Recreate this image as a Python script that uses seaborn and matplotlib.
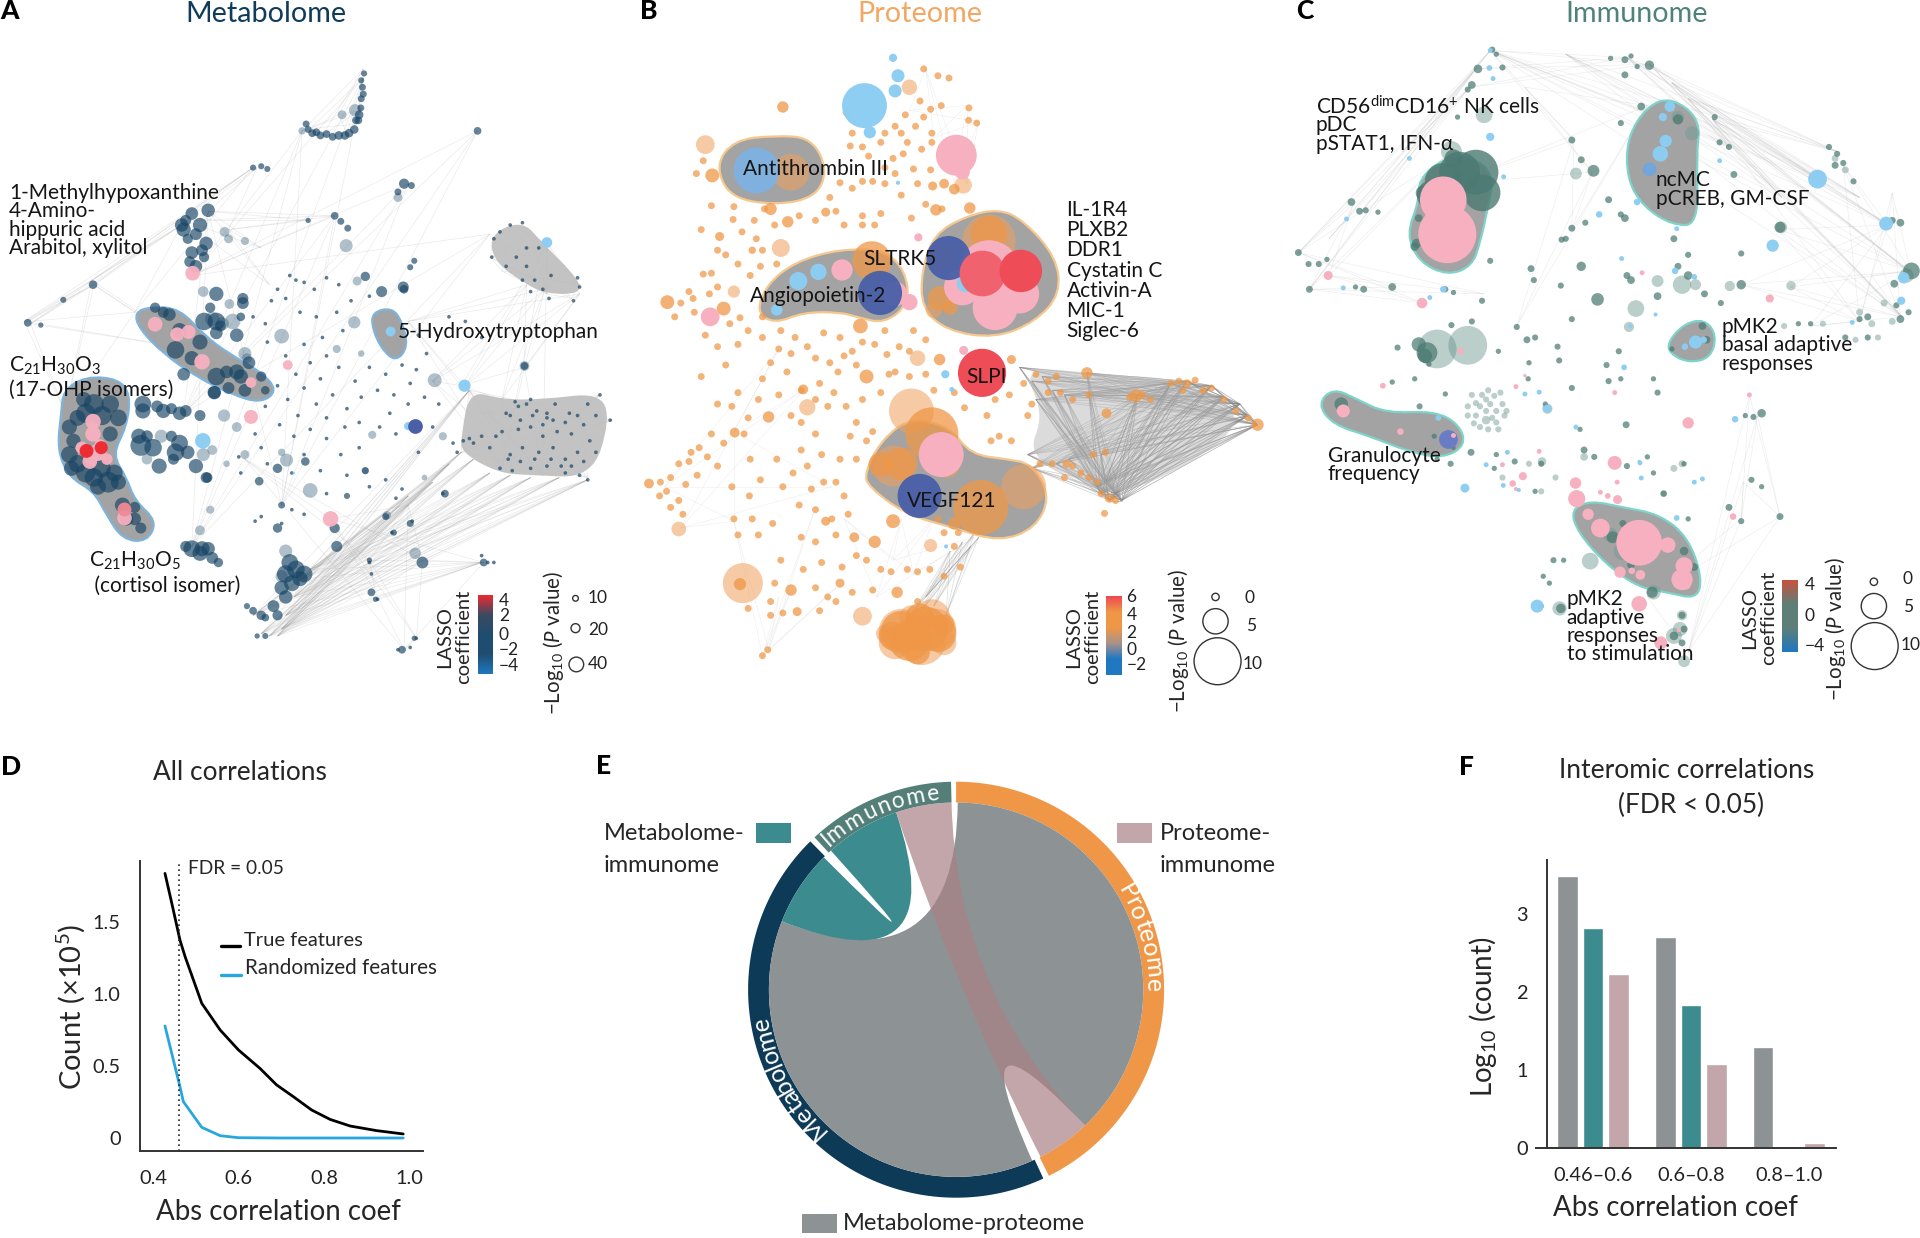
import itertools
import numpy as np
import pandas as pd
import matplotlib
matplotlib.use("Agg")
import matplotlib.pyplot as plt
import seaborn as sns
from matplotlib.collections import LineCollection
from matplotlib.colors import LinearSegmentedColormap
from matplotlib.font_manager import FontProperties
from matplotlib.patches import PathPatch, Rectangle
from matplotlib.path import Path
from matplotlib.textpath import TextPath

W, H = 1920, 1238
NAVY, ORANGE, GREEN = "#0c3a57", "#ef9747", "#537f78"
GREY, TEAL, MAUVE = "#8d9295", "#3c8b8e", "#c3a6aa"
PINK, SKY, INDIGO, RED = "#f7b0c0", "#8ccdf2", "#4a5fa8", "#ed2a30"
HULL = "#a3a3a3"

# ---- panel D data
true_x = [.428, .444, .463, .475, .514, .557, .6, .65, .689, .728, .771, .814, .861, .923, .985]
true_y = [1.835, 1.627, 1.373, 1.258, .934, .749, .61, .483, .368, .287, .194, .129, .083, .051, .028]
rand_x = [.428, .463, .471, .514, .557, .6, .7, .985]
rand_y = [.777, .356, .252, .074, .016, .002, 0, 0]

# ---- panel E data, degrees clockwise from 12 o'clock
proteome_arc = (0.0, 153.5)
metabolome_arc = (155.2, 315.5)
immunome_arc = (317.1, 358.6)
met_prot_prot = (0.5, 136.5)
met_prot_met = (156.0, 291.4)
met_imm_met = (291.4, 315.0)
met_imm_imm = (318.0, 341.3)
prot_imm_imm = (341.3, 358.6)
prot_imm_prot = (136.5, 153.2)

# ---- panel F data
f_ranges = ["0.46–0.6", "0.6–0.8", "0.8–1.0"]
f_met_prot = [3.5, 2.71, 1.30]
f_met_imm = [2.82, 1.84, 0]
f_prot_imm = [2.24, 1.08, .06]

# ---- panel A network (x, y, diameter)
A_hulls = [
    [(330, 680), (370, 668), (440, 672), (500, 730), (560, 770), (640, 810), (680, 850), (640, 878), (570, 860), (480, 820), (400, 770), (340, 715)],
    [(155, 850), (210, 820), (290, 825), (320, 860), (310, 930), (275, 990), (310, 1040), (330, 1090), (385, 1135), (360, 1180), (300, 1175), (260, 1120), (230, 1070), (170, 1040), (140, 980), (150, 900)],
    [(912, 680), (960, 670), (985, 700), (1000, 755), (970, 788), (935, 760), (912, 715)],
]
A_masses = [
    [(1130, 950), (1150, 850), (1230, 870), (1330, 870), (1470, 855), (1495, 915), (1450, 1040), (1300, 1035), (1220, 1030), (1130, 985)],
    [(1200, 510), (1280, 480), (1330, 530), (1420, 610), (1420, 640), (1340, 640), (1290, 620), (1210, 570)],
]
A_fans = [
    ([(640, 1380), (680, 1385), (700, 1340), (740, 1260), (620, 1340), (660, 1385), (690, 1370), (720, 1300), (760, 1240)],
     [(1130, 985), (1160, 1000), (1200, 1030), (1250, 1035), (1300, 1040), (1370, 1040), (1440, 1045), (1000, 1080), (1180, 1225), (1150, 850), (1100, 1010), (1060, 1050)]),
    ([(470, 600), (450, 900), (470, 1190), (690, 1100)], [(820, 470), (510, 460), (1170, 285), (890, 170), (1000, 400), (1200, 510), (740, 285)]),
    ([(60, 700), (230, 620), (330, 680), (75, 705), (225, 610)], [(160, 900), (445, 490), (470, 760), (620, 365), (230, 620), (68, 700)]),
    ([(1230, 1020), (1330, 1035), (1130, 840), (1290, 620), (1335, 630), (1420, 640)], [(1285, 800), (1140, 840), (1000, 700), (1340, 530), (1060, 830), (1230, 870)]),
    ([(990, 1415), (905, 1220), (1035, 1220), (810, 1130)], [(920, 1290), (1020, 1390), (1185, 1225), (1000, 1100), (600, 1000)]),
    ([(890, 150), (880, 240), (850, 290), (760, 280)], [(740, 285), (790, 295), (890, 170), (875, 270), (830, 250)]),
    ([(450, 480), (510, 460), (560, 500)], [(755, 480), (820, 470), (640, 540), (630, 365), (660, 620)]),
    ([(1200, 560), (1250, 490), (1420, 620), (1340, 640)], [(1210, 520), (1340, 530), (1400, 650), (1290, 600), (1300, 510), (1230, 590)]),
    ([(1500, 915), (1470, 860), (1440, 1040), (1150, 850)], [(1130, 985), (1180, 900), (1250, 1000), (1350, 950), (1420, 900)]),
]
A_lightnodes = [
    (498, 635, 24), (562, 662, 22), (570, 700, 36), (545, 705, 30), (520, 695, 34), (600, 770, 30), (690, 732, 34),
    (605, 780, 22), (549, 905, 28), (580, 930, 22), (702, 1002, 30), (760, 1068, 34), (1065, 828, 32), (1285, 797, 22),
    (875, 612, 20), (868, 702, 28), (848, 535, 30), (975, 430, 20), (1017, 1205, 26), (948, 1122, 18), (912, 947, 18),
    (1085, 950, 18), (490, 1155, 22), (515, 1110, 18), (498, 990, 30), (520, 980, 22), (700, 1200, 30), (690, 1255, 28),
    (1040, 1040, 12), (555, 1010, 14), (600, 990, 20), (690, 985, 16), (895, 1025, 16), (825, 760, 18), (885, 770, 14),
    (740, 285, 16), (838, 250, 20), (870, 240, 28), (560, 520, 20), (600, 525, 18), (550, 505, 22), (395, 950, 30), (360, 1000, 24),
]
A_darknodes = [
    (888, 190, 10), (892, 160, 8), (885, 215, 10), (880, 250, 14), (872, 262, 12), (855, 290, 14), (830, 295, 14), (800, 292, 12), (775, 288, 12), (755, 282, 10),
    (750, 270, 10), (765, 290, 12), (785, 295, 12), (815, 298, 12), (845, 295, 14), (868, 282, 14), (878, 262, 12), (884, 235, 10), (890, 205, 10), (885, 175, 8),
    (620, 365, 8), (640, 362, 8), (655, 368, 8), (990, 400, 18), (1008, 404, 10), (975, 418, 10), (1170, 285, 12), (820, 470, 12), (835, 482, 10), (852, 497, 10),
    (755, 480, 6), (1015, 568, 8), (1005, 582, 8), (988, 625, 20), (935, 635, 20), (895, 602, 16), (228, 620, 14), (155, 653, 8), (68, 703, 12), (100, 708, 6),
    (445, 490, 26), (510, 458, 26), (470, 465, 24), (455, 480, 20), (480, 510, 22), (460, 520, 18), (470, 550, 24), (495, 545, 22), (465, 570, 20), (500, 560, 18),
    (595, 660, 22), (530, 725, 24), (590, 690, 14), (515, 670, 18), (540, 710, 20),
    (380, 670, 18), (415, 685, 24), (400, 680, 20), (440, 720, 30), (490, 745, 30), (430, 762, 36), (470, 780, 28), (450, 815, 24), (530, 820, 36), (555, 810, 24),
    (580, 810, 30), (590, 820, 28), (610, 790, 24), (640, 820, 18), (650, 850, 14), (600, 850, 24), (560, 845, 22), (525, 855, 26),
    (230, 880, 42), (270, 880, 36), (190, 910, 32), (290, 910, 34), (180, 960, 28), (270, 945, 30), (190, 1010, 36), (230, 1040, 38), (265, 1050, 44), (290, 1050, 30),
    (240, 1060, 32), (205, 870, 30), (300, 1100, 30), (330, 1130, 24), (350, 880, 34), (385, 885, 22), (420, 890, 20), (455, 895, 22), (490, 905, 20), (345, 970, 44),
    (420, 950, 20), (440, 965, 34), (390, 1015, 30), (425, 1000, 20), (460, 985, 26), (480, 1015, 28), (505, 1040, 20), (360, 950, 22), (525, 855, 24),
    (470, 1195, 34), (495, 1195, 30), (455, 1190, 20), (520, 1215, 22), (535, 1225, 16), (690, 1100, 10), (680, 1150, 16), (710, 1225, 34), (725, 1240, 36), (715, 1270, 32),
    (735, 1260, 30), (700, 1300, 26), (680, 1340, 18), (650, 1345, 12), (620, 1330, 12), (605, 1320, 8), (650, 1385, 8), (630, 1385, 6), (825, 1190, 20), (820, 1150, 18),
    (1035, 1225, 22), (905, 1220, 6), (910, 1290, 12), (920, 1305, 6), (985, 1415, 12), (1015, 1390, 6), (1185, 1225, 12), (1285, 797, 12), (1090, 1075, 12), (850, 1080, 8),
    (635, 1048, 14), (680, 1020, 16), (748, 1005, 14), (895, 1025, 10), (508, 1040, 18), (595, 650, 20), (990, 630, 14), (945, 1125, 10), (1005, 1140, 10), (965, 1160, 8),
    (210, 900, 40), (250, 905, 40), (170, 930, 30), (210, 1030, 40), (250, 1020, 36), (280, 1030, 34), (170, 990, 34), (175, 1020, 30), (310, 1130, 26), (345, 1150, 20), (330, 1105, 20),
    (450, 500, 28), (490, 490, 28), (505, 530, 26), (480, 580, 24), (530, 640, 28), (500, 700, 36), (580, 730, 26), (530, 700, 36), (350, 895, 30), (400, 895, 28), (440, 900, 26),
    (340, 950, 30), (375, 975, 36), (430, 985, 36), (700, 1250, 36), (745, 1250, 34), (690, 1280, 28), (670, 1320, 22), (640, 1340, 16), (490, 1205, 30), (510, 1195, 26),
]
A_smallnodes = [
    (1240, 900), (1262, 875), (1290, 880), (1315, 895), (1340, 900), (1360, 880), (1395, 900), (1440, 880), (1470, 860), (1495, 915), (1230, 940), (1270, 935), (1300, 930),
    (1330, 950), (1365, 940), (1400, 945), (1430, 925), (1460, 905), (1135, 960), (1160, 965), (1200, 975), (1250, 990), (1280, 975), (1320, 985), (1355, 975), (1385, 1000),
    (1415, 985), (1445, 960), (1225, 1020), (1255, 1025), (1300, 1020), (1340, 1015), (1385, 1030), (1420, 1035), (1440, 1045), (1340, 910), (1305, 905), (1330, 925), (1375, 1015), (1120, 985),
    (1250, 905), (1275, 915), (1355, 915), (1385, 920), (1415, 905), (1245, 1000), (1275, 1005), (1310, 1000), (1350, 1000), (1400, 1015), (1430, 1005), (1460, 985), (1215, 950), (1180, 950), (1150, 955), (1110, 965), (1300, 870), (1270, 885),
    (1210, 520), (1225, 505), (1250, 490), (1280, 485), (1205, 560), (1240, 580), (1290, 580), (1310, 610), (1330, 630), (1350, 600), (1290, 540), (1320, 540), (1415, 605), (1420, 625), (1405, 655), (1345, 650), (1300, 635), (1280, 610), (1265, 560),
    (710, 600), (725, 610), (680, 630), (700, 650), (745, 615), (770, 630), (800, 605), (830, 620), (665, 655), (735, 680), (775, 690), (825, 680), (860, 655), (905, 645),
    (620, 690), (650, 705), (655, 745), (700, 775), (745, 750), (790, 735), (840, 720), (800, 775), (760, 790), (725, 815), (680, 840), (705, 870), (745, 845), (785, 825),
    (830, 800), (870, 830), (905, 800), (945, 815), (985, 795), (1020, 805), (1045, 770), (1100, 690), (1140, 700), (1180, 735), (1025, 730), (730, 905), (775, 880), (815, 860), (850, 890),
    (885, 865), (925, 850), (965, 860), (1005, 835), (1040, 865), (1075, 880), (1000, 880), (955, 900), (880, 920), (845, 930), (800, 910), (760, 935), (720, 950), (685, 925),
    (650, 885), (625, 945), (585, 995), (640, 975), (745, 990), (800, 955), (835, 990), (880, 975), (930, 930), (970, 945), (1025, 985), (1060, 930), (590, 1030), (655, 1010),
    (715, 1030), (785, 1025), (850, 1035), (905, 1060), (945, 1045), (985, 1065), (1010, 1135), (960, 1160), (970, 1085), (1085, 1075), (800, 1075), (745, 1120), (715, 1110), (690, 1140), (640, 1125), (625, 1135),
    (1180, 1210), (1195, 1225), (1210, 1225), (1005, 1410), (975, 1415), (910, 1250), (905, 1225), (925, 1305), (1020, 1390),
]
A_pink = [(472, 595, 36), (380, 706, 36), (434, 728, 34), (462, 723, 34), (495, 788, 38), (615, 833, 26), (705, 795, 24), (615, 908, 34), (810, 1130, 38),
          (228, 918, 38), (228, 945, 38), (200, 975, 30), (240, 985, 42), (220, 1005, 36), (262, 1000, 28), (245, 968, 26), (305, 1128, 36)]
A_rose = [(304, 1108, 34)]
A_red = [(212, 982, 34), (248, 975, 32)]
A_sky = [(1340, 528, 26), (957, 722, 24), (1138, 840, 30), (497, 960, 38), (1000, 928, 20), (720, 1030, 6)]
A_indigo = [(1017, 928, 36)]

# ---- panel B network
B_hulls = [
    [(185, 360), (230, 305), (330, 295), (420, 300), (460, 370), (430, 430), (330, 447), (220, 430)],
    [(285, 680), (310, 620), (380, 570), (490, 542), (600, 545), (650, 590), (660, 660), (600, 705), (530, 690), (490, 680), (400, 680), (330, 705)],
    [(690, 590), (720, 510), (800, 470), (880, 455), (940, 480), (1020, 560), (1030, 640), (970, 700), (870, 737), (750, 720), (690, 670)],
    [(550, 1030), (590, 960), (660, 910), (760, 930), (810, 990), (900, 1000), (960, 1010), (1005, 1080), (970, 1150), (880, 1180), (770, 1150), (650, 1120), (560, 1060)],
]
B_masses = [[(935, 800), (1100, 815), (1350, 825), (1510, 925), (1170, 1095), (1050, 1030), (950, 990), (990, 900)]]
B_mesh_left = [(930, 800), (960, 830), (970, 870), (950, 990), (960, 1020), (1010, 850), (1050, 1000), (1095, 812), (1130, 990), (1040, 860), (1020, 1010), (985, 820), (1100, 860)]
B_mesh_right = [(1513, 925), (1490, 905), (1470, 880), (1430, 865), (1400, 840), (1340, 830), (1300, 835), (1220, 860), (1150, 1090), (1165, 1075), (1140, 1050), (1180, 1090), (1130, 1075), (1120, 1060)]
B_fans = [
    ([(820, 1160), (790, 1180), (760, 1200), (830, 1170), (810, 1190)], [(690, 1330), (720, 1320), (750, 1340), (670, 1330), (700, 1300)]),
    ([(300, 1430), (315, 1415)], [(340, 1300), (370, 1285), (480, 1280), (230, 1135), (430, 1105)]),
    ([(800, 230), (830, 265), (700, 150)], [(800, 400), (660, 240), (720, 300), (770, 400)]),
    ([(60, 1060), (230, 940), (100, 1150)], [(340, 760), (230, 1135), (470, 1060), (400, 850)]),
    ([(580, 1300), (620, 1220), (670, 1250)], [(720, 1130), (640, 1130), (500, 1130), (820, 1170)]),
]
B_light = [
    (160, 315, 46), (855, 525, 130), (665, 895, 110), (370, 375, 90), (252, 1270, 98), (940, 1060, 110), (345, 540, 44), (410, 887, 40), (680, 780, 38),
    (545, 1342, 46), (95, 1152, 36), (660, 190, 38), (712, 1188, 32), (230, 635, 30), (792, 403, 42), (620, 1015, 100), (640, 1375, 110), (725, 1370, 100), (715, 1345, 90),
    (690, 1395, 120), (625, 1400, 80), (665, 1345, 60), (600, 1380, 44), (745, 1400, 60), (720, 675, 40), (750, 1010, 70),
]
B_medium = [
    (350, 233, 28), (177, 382, 34), (245, 1272, 30), (568, 568, 96), (855, 510, 90), (715, 945, 130), (835, 1105, 135), (640, 1010, 80), (590, 1012, 60),
    (700, 1370, 110), (660, 1395, 100), (685, 1345, 70), (640, 1375, 100), (730, 1380, 90), (620, 1385, 70), (680, 1420, 60), (745, 1360, 50),
    (205, 672, 34), (67, 658, 34), (22, 1053, 24), (725, 457, 28), (808, 453, 28), (770, 412, 26), (745, 400, 24), (717, 405, 22),
    (1095, 812, 28), (1513, 925, 30), (1143, 900, 24), (1215, 862, 32), (555, 820, 34), (315, 908, 28), (232, 942, 24), (540, 710, 36), (575, 1180, 30), (620, 1135, 34), (525, 1170, 24),
    (370, 1285, 28), (385, 1332, 22), (630, 1290, 28), (490, 1270, 22), (455, 1135, 22), (320, 455, 30), (362, 483, 28), (195, 515, 22), (275, 545, 18), (455, 462, 22), (770, 1140, 30), (734, 783, 28), (910, 783, 22), (400, 848, 24),
    (1045, 1010, 20), (1150, 1085, 22), (1340, 835, 20), (1380, 850, 18), (1230, 860, 20), (740, 560, 60), (735, 650, 60), (760, 670, 36), (850, 650, 40),
]
B_small = [
    (695, 150), (730, 165), (757, 170), (686, 220), (712, 238), (738, 230), (806, 235), (825, 268), (805, 262), (715, 290), (695, 255), (650, 250), (625, 275), (600, 290), (520, 290), (515, 318), (545, 320),
    (590, 310), (620, 345), (655, 310), (690, 325), (715, 310), (645, 335), (600, 365), (570, 395), (625, 378), (670, 368), (712, 370), (680, 400), (490, 398), (520, 410), (465, 430), (155, 350), (138, 378), (230, 450),
    (175, 448), (228, 478), (305, 455), (330, 490), (150, 500), (285, 520), (190, 545), (335, 575), (295, 580), (270, 600), (155, 597), (175, 595), (120, 635), (133, 680), (100, 660), (190, 625), (245, 692), (220, 705), (265, 720),
    (240, 750), (300, 690), (345, 720), (380, 735), (410, 755), (340, 760), (370, 770), (450, 725), (490, 735), (520, 765), (465, 790), (500, 775), (575, 750), (605, 772), (635, 755), (660, 765), (610, 815), (625, 810), (660, 820), (700, 815), (720, 850), (770, 855), (795, 888),
    (545, 470), (590, 465), (575, 490), (500, 490), (665, 475), (740, 455), (545, 490), (210, 795), (240, 855), (190, 880), (150, 820), (300, 825), (290, 870), (395, 850), (440, 835), (475, 855), (505, 885), (460, 885), (395, 920), (430, 945), (370, 905), (225, 885), (265, 910),
    (175, 945), (145, 975), (120, 1005), (95, 1010), (75, 1040), (65, 1070), (48, 1080), (95, 1090), (112, 1055), (75, 1105), (125, 985), (190, 1015), (225, 1060), (270, 1000), (268, 1080), (350, 1060), (375, 1030), (410, 1015), (450, 1050), (480, 1050), (500, 1080), (490, 1000),
    (515, 950), (530, 920), (570, 940), (430, 1110), (470, 1130), (430, 1180), (395, 1170), (345, 1220), (400, 1240), (290, 1165), (240, 1165), (230, 1130), (320, 1310), (320, 1340), (350, 1335), (265, 1325), (460, 1300), (480, 1310), (300, 1428), (313, 1415), (655, 1240), (680, 1245), (745, 1255), (785, 1235), (745, 1160), (780, 1160), (680, 1310),
    (880, 950), (860, 960), (910, 960), (850, 905), (905, 860), (940, 835), (970, 815), (1000, 855), (1030, 855), (1060, 870), (1100, 860), (960, 880), (950, 905), (1010, 1010), (1040, 1040), (1080, 1030), (1130, 1075), (1165, 1090), (1138, 1118), (1320, 830), (1360, 828), (1400, 845), (1430, 870), (1460, 895), (1490, 910), (1200, 865), (1140, 985), (1110, 990), (1020, 820),
    (505, 245), (560, 340), (640, 290), (675, 275), (750, 320), (740, 345), (600, 400), (545, 395), (640, 425), (700, 445), (480, 460), (430, 480), (390, 470), (280, 480), (250, 505), (210, 555), (240, 575), (300, 545), (170, 640), (130, 650), (85, 690), (160, 730),
    (190, 755), (300, 735), (320, 790), (360, 810), (430, 780), (485, 810), (530, 795), (545, 745), (600, 720), (670, 720), (700, 740), (590, 855), (545, 870), (430, 870), (340, 860), (255, 945), (205, 965), (165, 995), (140, 1035), (105, 1120), (50, 1050),
    (295, 1045), (335, 1000), (395, 980), (445, 990), (530, 1000), (555, 960), (420, 1065), (390, 1100), (325, 1140), (275, 1130), (510, 1120), (480, 1165), (530, 1210), (555, 1220), (445, 1225), (495, 1235), (330, 1270), (440, 1330), (430, 1280), (520, 1290), (570, 1285),
    (590, 1240), (615, 1245), (710, 1240), (770, 1190), (730, 1130), (800, 790), (870, 870), (1000, 830), (980, 1010), (1060, 1015), (1100, 1040), (1120, 1050), (1300, 835), (1330, 850), (1250, 870),
]
B_pink = [(775, 338, 100), (790, 375, 36), (682, 517, 20), (495, 588, 52), (172, 690, 46), (660, 658, 40), (793, 763, 22), (625, 640, 60),
          (855, 590, 150), (790, 625, 90), (870, 670, 110), (930, 640, 96), (738, 990, 110)]
B_sky = [(620, 126, 20), (632, 165, 32), (625, 198, 32), (550, 230, 110), (563, 288, 30), (632, 398, 10), (748, 815, 20), (764, 848, 12), (750, 1190, 10),
         (388, 612, 44), (437, 592, 40), (335, 675, 28), (798, 617, 44)]
B_steel = [(283, 370, 112)]
B_indigo = [(588, 638, 108), (756, 562, 108), (685, 1080, 108)]
B_coral = [(838, 595, 112)]
B_red = [(933, 590, 104), (838, 812, 118)]

# ---- panel C network
C_hulls = [
    [(340, 390), (400, 345), (470, 340), (525, 380), (510, 450), (490, 530), (470, 580), (410, 600), (340, 570), (310, 510), (340, 440)],
    [(850, 300), (900, 230), (960, 212), (1030, 260), (1020, 340), (1025, 490), (960, 490), (890, 450), (850, 390)],
    [(950, 745), (990, 705), (1040, 695), (1070, 730), (1055, 780), (1000, 790), (955, 770)],
    [(92, 880), (130, 845), (190, 870), (260, 900), (380, 895), (440, 925), (455, 970), (400, 998), (320, 985), (220, 950), (130, 925)],
    [(712, 1110), (760, 1090), (840, 1105), (930, 1120), (1000, 1170), (1035, 1260), (1020, 1305), (950, 1290), (880, 1280), (800, 1230), (730, 1160)],
]
C_fans = [
    ([(515, 110), (850, 125), (905, 140), (1000, 215), (1060, 260), (960, 180), (700, 118)], [(1320, 390), (1490, 490), (1540, 590), (1525, 690), (1365, 330), (1100, 320), (1230, 430), (1420, 430)]),
    ([(515, 110), (480, 150), (465, 190)], [(45, 550), (72, 630), (200, 460), (850, 125), (905, 140), (120, 520), (300, 330)]),
    ([(45, 550), (72, 630), (120, 600)], [(180, 445), (400, 345), (275, 625), (350, 660), (500, 640)]),
    ([(1225, 1125), (1130, 1130), (1000, 1420)], [(1150, 860), (1170, 905), (1135, 1050), (1000, 1420), (900, 1300)]),
    ([(1490, 490), (1545, 590), (1520, 690), (1420, 700)], [(1220, 500), (1380, 360), (1250, 625), (1130, 620), (1300, 710), (1060, 260), (1450, 600), (1500, 420)]),
    ([(720, 305), (765, 375), (900, 230)], [(515, 110), (420, 400), (600, 190), (715, 500), (580, 710)]),
]
C_light = [
    (500, 250, 36), (420, 330, 46), (725, 378, 24), (1010, 290, 30), (975, 255, 26), (1228, 495, 24), (925, 612, 24), (985, 620, 40), (1018, 620, 22), (1102, 623, 20), (1252, 622, 18),
    (872, 672, 36), (855, 712, 20), (1535, 600, 30), (460, 752, 90), (385, 760, 90), (760, 1222, 36), (685, 1325, 30), (990, 1440, 24), (985, 1340, 20), (655, 890, 20), (642, 1005, 16),
    (915, 1290, 30), (965, 1385, 34), (980, 1370, 30), (840, 1200, 40), (810, 1165, 30), (900, 1170, 30), (1000, 1230, 20), (505, 915, 16), (480, 878, 10), (510, 850, 10), (545, 880, 10), (530, 920, 10),
    (460, 905, 10), (490, 930, 10), (515, 880, 10), (550, 905, 10), (470, 860, 10), (525, 862, 10), (495, 860, 10), (460, 885, 10), (480, 905, 10), (505, 895, 10), (530, 895, 10), (490, 885, 10), (555, 895, 10),
    (510, 935, 10), (535, 935, 10), (475, 922, 10), (505, 870, 10), (540, 855, 10), (520, 910, 10), (745, 995, 14), (965, 1020, 12), (940, 1075, 12), (985, 1010, 12),
    (1360, 345, 12), (1385, 370, 12), (1420, 680, 12), (1450, 705, 12), (1480, 660, 12), (1500, 700, 12), (1235, 710, 10), (1330, 705, 10), (1410, 740, 10), (1465, 735, 10), (610, 1010, 10), (675, 1040, 10), (640, 1070, 10), (545, 1040, 10),
]
C_mass = [(480, 375, 110), (440, 375, 100), (400, 395, 90), (495, 420, 90), (370, 425, 70), (425, 345, 44)]
C_dark = [
    (520, 108, 10), (530, 118, 8), (485, 150, 16), (545, 147, 10), (470, 185, 14), (460, 195, 10), (435, 255, 8), (810, 127, 8), (845, 130, 12), (860, 122, 8), (875, 145, 8), (905, 142, 18), (845, 163, 12),
    (885, 232, 14), (835, 268, 10), (975, 260, 20), (715, 305, 12), (738, 348, 12), (768, 372, 24), (1065, 255, 10), (1077, 310, 10), (1100, 320, 10), (1112, 380, 12), (1225, 495, 22), (1345, 320, 10), (1365, 335, 10), (1380, 355, 10), (1360, 360, 12), (1405, 395, 10),
    (1500, 480, 12), (1520, 485, 14), (1547, 590, 36), (1505, 618, 14), (1510, 665, 10), (1520, 695, 14), (1540, 680, 10), (1440, 690, 12), (1420, 695, 10), (1440, 735, 10), (1385, 735, 10), (1270, 705, 8), (1300, 705, 8),
    (45, 550, 12), (72, 630, 12), (70, 575, 10), (95, 575, 10), (115, 565, 8), (175, 440, 14), (195, 460, 12), (210, 458, 10), (240, 462, 8), (185, 625, 8), (205, 630, 12), (275, 625, 14), (330, 537, 16),
    (515, 568, 10), (405, 630, 10), (425, 637, 8), (495, 655, 10), (615, 585, 12), (622, 610, 10), (738, 580, 18), (688, 622, 10), (778, 652, 26), (700, 520, 10), (715, 497, 12), (748, 485, 10), (690, 522, 10), (845, 475, 14), (805, 435, 12), (835, 467, 10),
    (850, 600, 12), (860, 610, 14), (925, 645, 14), (975, 580, 12), (1000, 600, 16), (965, 520, 12), (1000, 555, 10), (1130, 552, 10), (1130, 620, 18), (1080, 660, 10), (1040, 640, 12), (580, 712, 10), (605, 740, 12), (625, 735, 10), (288, 757, 10), (715, 695, 10),
    (680, 755, 10), (684, 785, 10), (830, 765, 10), (800, 795, 10), (805, 830, 10), (835, 825, 8), (915, 825, 8), (925, 855, 10), (715, 845, 10), (650, 880, 8), (608, 825, 8), (405, 858, 8), (342, 885, 10), (848, 925, 12), (735, 935, 8),
    (275, 832, 8), (330, 825, 8), (365, 793, 8), (360, 768, 46), (355, 775, 30), (340, 750, 30), (420, 708, 10), (470, 700, 10), (535, 765, 8), (610, 790, 8), (1180, 900, 16), (1160, 908, 10), (1140, 905, 8), (1100, 1105, 12), (1130, 1135, 10), (1225, 1125, 12), (1155, 1045, 10), (1180, 1060, 8),
    (940, 1075, 10), (990, 1010, 8), (900, 995, 8), (915, 1030, 8), (850, 1015, 10), (770, 995, 10), (745, 980, 12), (640, 1010, 10), (625, 1070, 8), (575, 1005, 10), (530, 990, 8), (468, 985, 12), (418, 1010, 10), (525, 1020, 8),
    (670, 1220, 10), (695, 1220, 8), (645, 1255, 8), (660, 1270, 8), (640, 1320, 8), (688, 1325, 18), (912, 1290, 22), (985, 1340, 12), (965, 1385, 16), (990, 1370, 12), (985, 1400, 12), (385, 1000, 8),
    (815, 1170, 24), (840, 1140, 12), (860, 1230, 14), (990, 1200, 16), (1015, 1235, 14), (1000, 1130, 8), (960, 760, 8), (1035, 710, 14), (1045, 740, 14), (150, 880, 28), (378, 950, 8), (425, 975, 6),
    (335, 530, 18), (350, 420, 30), (340, 475, 14),
]
C_pink = [
    (400, 435, 112), (410, 510, 140), (118, 600, 20), (348, 660, 24), (442, 765, 14), (155, 895, 30), (295, 940, 14), (422, 948, 12), (252, 840, 12), (578, 842, 10), (600, 818, 6), (635, 983, 10),
    (545, 1012, 10), (595, 1037, 18), (570, 1053, 14), (578, 1065, 8), (887, 594, 10), (1200, 650, 18), (1150, 860, 10), (820, 855, 10), (1000, 921, 26), (820, 1008, 32), (724, 1052, 26), (727, 1086, 40), (785, 1072, 10), (827, 1088, 20), (803, 1080, 12), (826, 1050, 10), (1110, 1125, 14),
    (755, 1120, 26), (785, 1150, 44), (880, 1182, 110), (950, 1187, 36), (990, 1232, 40), (985, 1262, 50), (993, 1272, 26), (833, 1246, 26), (862, 1243, 14), (883, 1252, 22), (880, 1315, 36), (933, 1400, 30), (977, 1372, 8),
]
C_sky = [
    (515, 110, 10), (513, 148, 12), (522, 171, 10), (515, 298, 18), (317, 345, 10), (548, 385, 10), (163, 477, 10), (155, 627, 10), (400, 630, 14), (367, 648, 10), (955, 232, 24), (938, 255, 18), (945, 307, 28), (932, 335, 36), (905, 365, 14), (875, 440, 14), (972, 498, 10),
    (782, 467, 14), (1077, 350, 10), (1317, 390, 44), (1485, 487, 32), (1207, 535, 28), (1528, 605, 26), (1522, 655, 18), (1402, 702, 10), (837, 563, 10), (968, 590, 14), (1015, 603, 12), (920, 685, 8), (858, 710, 8),
    (843, 800, 12), (600, 858, 10), (635, 854, 10), (655, 890, 18), (725, 930, 10), (388, 910, 12), (1115, 913, 14), (1015, 1050, 10), (1035, 1043, 10), (885, 1041, 10), (882, 1008, 10), (972, 1128, 12), (453, 1063, 20), (557, 985, 10), (505, 1012, 10), (547, 1057, 10), (585, 1067, 8),
    (630, 1320, 30), (992, 755, 14), (1018, 745, 30), (1038, 740, 14), (880, 1005, 6),
]
C_steel = [(903, 368, 34)]
C_indigo = [(412, 955, 46)]

# ---- text annotations in panels A-C
A_labels = [("1-Methylhypoxanthine", 22, 420), ("4-Amino-", 22, 460), ("hippuric acid", 22, 500), ("Arabitol, xylitol", 22, 540),
            ("C$_{21}$H$_{30}$O$_3$", 22, 797), ("(17-OHP isomers)", 22, 850), ("C$_{21}$H$_{30}$O$_5$", 218, 1222), (" (cortisol isomer)", 218, 1275),
            ("5-Hydroxytryptophan", 975, 722)]
B_labels = [("Antithrombin III", 252, 368), ("SLTRK5", 548, 563), ("Angiopoietin-2", 270, 645), ("IL-1R4", 1045, 457), ("PLXB2", 1045, 500), ("DDR1", 1045, 545),
            ("Cystatin C", 1045, 590), ("Activin-A", 1045, 633), ("MIC-1", 1045, 677), ("Siglec-6", 1045, 720), ("SLPI", 800, 820), ("VEGF121", 655, 1090)]
C_labels = [("CD56$^{dim}$CD16$^{+}$ NK cells", 88, 232), ("pDC", 88, 272), ("pSTAT1, IFN-α", 88, 313), ("ncMC", 920, 393), ("pCREB, GM-CSF", 920, 433),
            ("pMK2", 1082, 712), ("basal adaptive", 1082, 752), ("responses", 1082, 793), ("Granulocyte", 117, 993), ("frequency", 117, 1033),
            ("pMK2", 702, 1305), ("adaptive", 702, 1345), ("responses", 702, 1385), ("to stimulation", 702, 1425)]


def px_axes(fig, x0, y0, x1, y1):
    # axes placed by pixel box of the 1920x1238 canvas, y from the top
    return fig.add_axes([x0 / W, 1 - y1 / H, (x1 - x0) / W, (y1 - y0) / H])


def draw_nodes(ax, points, color, alpha=1.0, default_d=9, grow=0):
    rows = [p if len(p) == 3 else (p[0], p[1], default_d) for p in points]
    df = pd.DataFrame(rows, columns=["x", "y", "d"])
    # d is in crop units (2.45 per pixel); scatter wants points squared
    area = ((df["d"].to_numpy() + grow) * 0.294) ** 2
    sns.scatterplot(data=df, x="x", y="y", s=area, color=color, alpha=alpha,
                    linewidth=0, legend=False, ax=ax, clip_on=False)


def blob(ax, pts, face, edge, alpha=1.0, lw=1.6):
    # closed quadratic b-spline through the midpoints of the hull vertices
    pts = np.array(pts, dtype=float)
    mids = (pts + np.roll(pts, -1, axis=0)) / 2
    verts = [mids[-1]]
    codes = [Path.MOVETO]
    for i in range(len(pts)):
        verts += [pts[i], mids[i]]
        codes += [Path.CURVE3, Path.CURVE3]
    ax.add_patch(PathPatch(Path(verts, codes), fc=face, ec=edge, lw=lw, alpha=alpha, zorder=.6))


def fans(ax, pairs, color="#9b9b9b", alpha=.22, lw=.5):
    segs = []
    for left, right in pairs:
        segs += list(itertools.product(left, right))
    ax.add_collection(LineCollection(segs, colors=color, alpha=alpha, linewidths=lw, zorder=.5))


def colorbar(ax, x0, x1, y0, y1, stops):
    cmap = LinearSegmentedColormap.from_list("bar", stops)
    ax.imshow(np.linspace(1, 0, 128)[:, None], extent=(x0, x1, y1, y0), aspect="auto", cmap=cmap, zorder=3)


def size_legend(ax, points):
    df = pd.DataFrame(points, columns=["x", "y", "d"])
    sns.scatterplot(data=df, x="x", y="y", s=(df["d"].to_numpy() * 0.294) ** 2, facecolor="none",
                    edgecolor="#333333", linewidth=1.0, legend=False, ax=ax, clip_on=False)


def panel_text(ax, labels, size=15):
    for text, x, y in labels:
        ax.text(x, y, text, fontsize=size, va="center", ha="left", color="#151515", zorder=6)


def finish_panel(ax):
    ax.set_xlim(0, 1568)
    ax.set_ylim(1568, 0)
    ax.set_xlabel("")
    ax.set_ylabel("")
    ax.axis("off")


def side_legend(ax, lasso_x, lasso_y, logp_x, logp_y, ticks):
    ax.text(lasso_x[0], lasso_y, "LASSO", rotation=90, fontsize=14.5, ha="center", va="center")
    ax.text(lasso_x[1], lasso_y, "coefficient", rotation=90, fontsize=14.5, ha="center", va="center")
    ax.text(logp_x, logp_y, r"−Log$_{10}$ ($\mathit{P}$ value)", rotation=90, fontsize=14.8, ha="center", va="center")
    for text, x, y in ticks:
        ax.text(x, y, text, fontsize=12.5, ha="left", va="center", color="#222222")


def draw_network_a(ax):
    fans(ax, A_fans, alpha=.2)
    for m in A_masses:
        blob(ax, m, "#bdbdbd", "none", alpha=.9, lw=0)
    for h in A_hulls:
        blob(ax, h, HULL, "#7eb4dc")
    draw_nodes(ax, A_lightnodes, "#2f5a76", .38, grow=2)
    draw_nodes(ax, A_darknodes, "#174464", .66, grow=7)
    draw_nodes(ax, A_smallnodes, "#1c4868", .72, default_d=9)
    draw_nodes(ax, A_pink, PINK, .95)
    draw_nodes(ax, A_rose, "#f08a95", .95)
    draw_nodes(ax, A_red, RED, .98)
    draw_nodes(ax, A_sky, SKY, .98)
    draw_nodes(ax, A_indigo, INDIGO, 1)
    panel_text(ax, A_labels)
    colorbar(ax, 1170, 1206, 1298, 1468, ["#1f78c1", "#1f4d70", "#1f4d70", "#3a4a62", "#ed2a30"])
    side_legend(ax, (1090, 1137), 1387, 1355, 1400,
                [("4", 1222, 1308), ("2", 1222, 1342), ("0", 1222, 1382), ("−2", 1222, 1415), ("−4", 1222, 1450)])
    size_legend(ax, [(1410, 1303, 14), (1410, 1368, 22), (1412, 1447, 36)])
    for text, y in [("10", 1303), ("20", 1372), ("40", 1447)]:
        ax.text(1440, y, text, fontsize=12.5, va="center", color="#222222")
    finish_panel(ax)


def draw_network_b(ax):
    fans(ax, [(B_mesh_left, B_mesh_right), (B_mesh_right, B_mesh_right)], color="#8d8d8d", alpha=.42, lw=.5)
    fans(ax, B_fans[:1], color="#8d8d8d", alpha=.3, lw=.5)
    fans(ax, B_fans[1:], color="#c4c4c4", alpha=.28, lw=.4)
    for m in B_masses:
        blob(ax, m, "#b0b0b0", "none", alpha=.45, lw=0)
    for h in B_hulls:
        blob(ax, h, HULL, "#f5c890")
    draw_nodes(ax, B_light, "#f0a05a", .55)
    draw_nodes(ax, B_medium, ORANGE, .75)
    draw_nodes(ax, B_small, ORANGE, .72, default_d=17)
    draw_nodes(ax, B_pink, PINK, 1)
    draw_nodes(ax, B_sky, SKY, .98)
    draw_nodes(ax, B_steel, "#7fb2e2", .95)
    draw_nodes(ax, B_indigo, INDIGO, .95)
    draw_nodes(ax, B_coral, "#f0626e", 1)
    draw_nodes(ax, B_red, "#ee4c57", 1)
    panel_text(ax, B_labels)
    colorbar(ax, 1142, 1180, 1298, 1470, ["#1f78c1", "#1f78c1", "#a9928a", ORANGE, ORANGE, "#ee4850"])
    side_legend(ax, (1063, 1110), 1387, 1320, 1395,
                [("6", 1192, 1300), ("4", 1192, 1340), ("2", 1192, 1378), ("0", 1192, 1415), ("−2", 1192, 1448)])
    size_legend(ax, [(1410, 1300, 18), (1410, 1353, 62), (1415, 1440, 115)])
    for text, x, y in [("0", 1482, 1302), ("5", 1484, 1364), ("10", 1477, 1445)]:
        ax.text(x, y, text, fontsize=12.5, va="center", color="#222222")
    finish_panel(ax)


def draw_network_c(ax):
    fans(ax, C_fans, color="#b5b5b5", alpha=.22, lw=.5)
    for h in C_hulls:
        blob(ax, h, HULL, "#7ed3cb")
    draw_nodes(ax, C_light, "#6f9992", .48, grow=5)
    draw_nodes(ax, C_mass, "#4b7a72", .8)
    draw_nodes(ax, C_dark, "#4b7a72", .72, grow=5)
    draw_nodes(ax, C_pink, PINK, 1, grow=2)
    draw_nodes(ax, C_sky, SKY, .98, grow=2)
    draw_nodes(ax, C_steel, "#6ea6dc", .9)
    draw_nodes(ax, C_indigo, "#6a7cc4", 1)
    draw_nodes(ax, [(425, 948, 12)], PINK, 1)
    panel_text(ax, C_labels)
    colorbar(ax, 1230, 1268, 1265, 1420, ["#1f78c1", "#5d7f78", "#5d7f78", "#c9523f"])
    side_legend(ax, (1150, 1198), 1345, 1362, 1370,
                [("4", 1285, 1275), ("0", 1285, 1342), ("−4", 1285, 1407)])
    size_legend(ax, [(1455, 1267, 18), (1455, 1320, 62), (1457, 1407, 115)])
    for text, x, y in [("0", 1525, 1262), ("5", 1527, 1323), ("10", 1520, 1405)]:
        ax.text(x, y, text, fontsize=12.5, va="center", color="#222222")
    finish_panel(ax)


def draw_lines(ax):
    sns.lineplot(x=true_x, y=true_y, color="black", lw=2.0, ax=ax, legend=False, estimator=None)
    sns.lineplot(x=rand_x, y=rand_y, color="#28a6de", lw=2.0, ax=ax, legend=False, estimator=None)
    ax.axvline(.461, color="#222222", lw=1.2, ls=(0, (1, 2)))
    ax.set_xlim(.3696, 1.0306)
    ax.set_ylim(-.0902, 1.923)
    ax.set_xticks([.4, .6, .8, 1.0], ["0.4", "0.6", "0.8", "1.0"])
    ax.set_yticks([0, .5, 1, 1.5], ["0", "0.5", "1.0", "1.5"])
    sns.despine(ax=ax)
    style_axis(ax)
    ax.set_xlabel("")
    ax.set_ylabel("")
    ax.patch.set_alpha(0)


def draw_bars(ax):
    df = pd.DataFrame({
        "range": f_ranges * 3,
        "log_count": f_met_prot + f_met_imm + f_prot_imm,
        "pair": ["mp"] * 3 + ["mi"] * 3 + ["pi"] * 3,
    })
    sns.barplot(data=df, x="range", y="log_count", hue="pair", palette={"mp": GREY, "mi": TEAL, "pi": MAUVE},
                width=.787, gap=.195, saturation=1, legend=False, ax=ax)
    ax.set_xlim(-.5826, 2.48)
    ax.set_ylim(0, 3.7)
    ax.set_yticks([0, 1, 2, 3])
    sns.despine(ax=ax)
    ax.spines["left"].set_position(("data", -.4668))
    style_axis(ax)
    ax.set_xlabel("")
    ax.set_ylabel("")
    ax.patch.set_alpha(0)


def style_axis(ax):
    for s in ["left", "bottom"]:
        ax.spines[s].set_linewidth(1.4)
        ax.spines[s].set_color("#333333")
    ax.tick_params(axis="both", length=9, width=1.2, color="#333333", labelsize=14.4, labelcolor="#222222", pad=5)


def polar(angle, r):
    t = np.deg2rad(angle)
    return r * np.sin(t), r * np.cos(t)


def ring(ax, arc, color):
    a = np.linspace(arc[0], arc[1], 120)
    outer = np.column_stack(polar(a, 1.0))
    inner = np.column_stack(polar(a[::-1], .9))
    ax.fill(*np.vstack([outer, inner]).T, color=color, lw=0)


def chord(ax, first, second, color, alpha=1.0):
    # ribbon: arc along first, curve via the centre, arc along second, curve back
    r = .9
    a1 = np.column_stack(polar(np.linspace(first[0], first[1], 100), r))
    a2 = np.column_stack(polar(np.linspace(second[0], second[1], 100), r))
    verts = list(a1)
    codes = [Path.MOVETO] + [Path.LINETO] * (len(a1) - 1)
    verts += [(0, 0), a2[0]]
    codes += [Path.CURVE3, Path.CURVE3]
    verts += list(a2[1:])
    codes += [Path.LINETO] * (len(a2) - 1)
    verts += [(0, 0), a1[0]]
    codes += [Path.CURVE3, Path.CURVE3]
    ax.add_patch(PathPatch(Path(verts, codes), fc=color, ec="none", alpha=alpha))


def ring_text(ax, word, start, end, size=18):
    fp = FontProperties(family="Lato", size=size)
    widths = [TextPath((0, 0), word[:i], prop=fp).get_extents().width if i else 0 for i in range(len(word) + 1)]
    for i, ch in enumerate(word):
        mid = (widths[i] + widths[i + 1]) / 2 / widths[-1]
        ang = start + (end - start) * mid
        x, y = polar(ang, .95)
        ax.text(x, y, ch, rotation=-ang, rotation_mode="anchor", ha="center", va="center",
                color="white", fontsize=size, zorder=5)


def draw_chord(ax):
    ring(ax, proteome_arc, ORANGE)
    ring(ax, metabolome_arc, NAVY)
    ring(ax, immunome_arc, GREEN)
    # gray ribbon twists: proteome start joins metabolome end
    chord(ax, met_prot_prot, met_prot_met, GREY)
    chord(ax, met_imm_met, met_imm_imm, TEAL)
    chord(ax, prot_imm_imm, prot_imm_prot, "#a98085", .7)
    ring_text(ax, "Proteome", 58.3, 91)
    ring_text(ax, "Metabolome", 223.5, 261.9)
    ring_text(ax, "Immunome", 318.7, 355.5, size=16.5)
    ax.set_xlim(-1.1, 1.1)
    ax.set_ylim(-1.1, 1.1)
    ax.axis("off")


def main():
    sns.set_style("white")
    plt.rcParams["font.family"] = ["Lato", "DejaVu Sans"]
    plt.rcParams["mathtext.fontset"] = "custom"
    plt.rcParams["mathtext.rm"] = "Lato"
    plt.rcParams["mathtext.it"] = "Lato:italic"
    plt.rcParams["mathtext.default"] = "regular"

    fig = plt.figure(figsize=(W / 100, H / 100), dpi=100)

    draw_network_a(px_axes(fig, 0, 0, 640, 720))
    draw_network_b(px_axes(fig, 640, 0, 1280, 720))
    draw_network_c(px_axes(fig, 1280, 0, 1920, 720))
    draw_lines(px_axes(fig, 140, 860.7, 422.7, 1151))
    draw_chord(px_axes(fig, 956.1 - 228.8, 989.7 - 228.8, 956.1 + 228.8, 989.7 + 228.8))
    draw_bars(px_axes(fig, 1536, 860, 1835.7, 1147.7))

    # full canvas layer for titles and legends, in pixels
    top = px_axes(fig, 0, 0, W, H)
    top.set_xlim(0, W)
    top.set_ylim(H, 0)
    top.axis("off")
    top.patch.set_alpha(0)

    for text, x, y, color in [("Metabolome", 266, 14, "#0f3c5a"), ("Proteome", 920, 14, "#f2a763"), ("Immunome", 1637, 14, "#4f8379")]:
        top.text(x, y, text, fontsize=20.7, ha="center", va="center", color=color)
    for text, x, y in [("A", 0, 11), ("B", 640, 11), ("C", 1296, 11), ("D", 1, 767), ("E", 596, 766), ("F", 1459, 767)]:
        top.text(x, y, text, fontsize=19, fontweight="black", ha="left", va="center", color="black")

    top.text(240, 773, "All correlations", fontsize=18.9, ha="center", va="center")
    top.text(71, 1007, "Count (×10$^5$)", fontsize=21, rotation=90, ha="center", va="center")
    top.text(278, 1212, "Abs correlation coef", fontsize=19.9, ha="center", va="center")
    top.text(188, 868, "FDR = 0.05", fontsize=13.8, ha="left", va="center")
    top.text(244, 940, "True features", fontsize=14.5, ha="left", va="center")
    top.text(245, 968, "Randomized features", fontsize=14.9, ha="left", va="center")
    sns.lineplot(x=[221, 240], y=[946, 946], color="black", lw=2.4, ax=top, legend=False)
    sns.lineplot(x=[221, 241], y=[975, 975], color="#28a6de", lw=2.4, ax=top, legend=False)

    top.text(604, 834, "Metabolome-", fontsize=17, ha="left", va="center")
    top.text(604, 865, "immunome", fontsize=17, ha="left", va="center")
    top.text(1159.5, 834, "Proteome-", fontsize=17, ha="left", va="center")
    top.text(1159.5, 865, "immunome", fontsize=17, ha="left", va="center")
    top.text(843, 1224, "Metabolome-proteome", fontsize=17, ha="left", va="center")
    top.add_patch(Rectangle((756, 823), 35, 20, fc=TEAL, ec="none"))
    top.add_patch(Rectangle((1116.6, 823), 35, 20, fc=MAUVE, ec="none"))
    top.add_patch(Rectangle((802, 1214), 35, 19, fc=GREY, ec="none"))

    top.text(1687, 770, "Interomic correlations", fontsize=19, ha="center", va="center")
    top.text(1691, 805, "(FDR < 0.05)", fontsize=19, ha="center", va="center")
    top.text(1483, 1017, "Log$_{10}$ (count)", fontsize=20, rotation=90, ha="center", va="center")
    top.text(1675, 1208, "Abs correlation coef", fontsize=19.9, ha="center", va="center")

    top.set_xlabel("")
    top.set_ylabel("")
    fig.savefig("out.png", dpi=100)


if __name__ == "__main__":
    main()
